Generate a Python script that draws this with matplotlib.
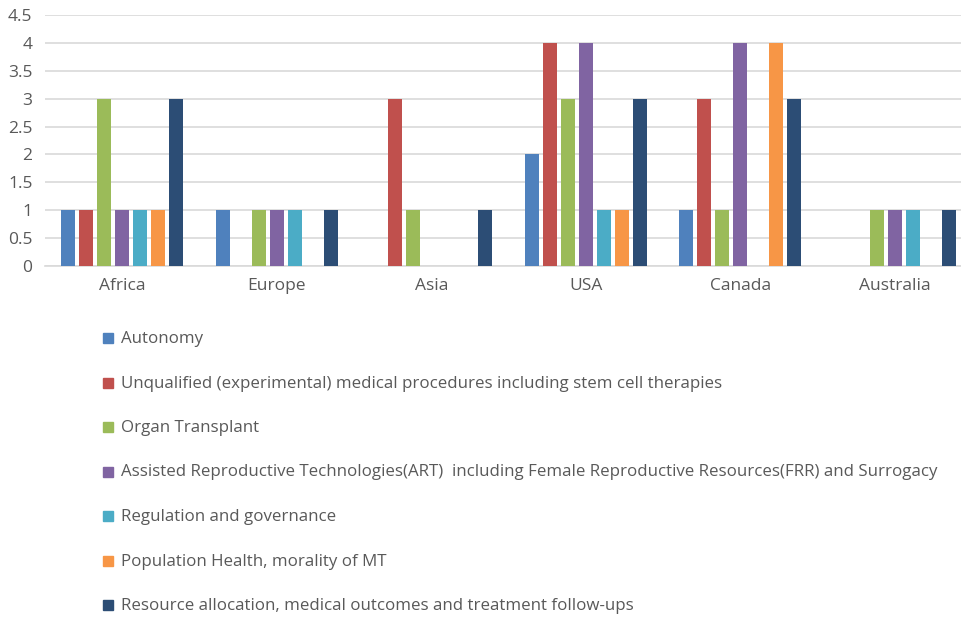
import matplotlib
matplotlib.use("Agg")
import matplotlib.pyplot as plt
import numpy as np
from matplotlib.patches import Rectangle

categories = ["Africa", "Europe", "Asia", "USA", "Canada", "Australia"]
series_names = [
    "Autonomy",
    "Unqualified (experimental) medical procedures including stem cell therapies",
    "Organ Transplant",
    "Assisted Reproductive Technologies(ART)  including Female Reproductive Resources(FRR) and Surrogacy",
    "Regulation and governance",
    "Population Health, morality of MT",
    "Resource allocation, medical outcomes and treatment follow-ups",
]
autonomy = [1, 1, 0, 2, 1, 0]
unqualified = [1, 0, 3, 4, 3, 0]
organ = [3, 1, 1, 3, 1, 1]
art = [1, 1, 0, 4, 4, 1]
regulation = [1, 1, 0, 1, 0, 1]
population = [1, 0, 0, 1, 4, 0]
resource = [3, 1, 1, 3, 3, 1]
values = [autonomy, unqualified, organ, art, regulation, population, resource]
yticks = [0, 0.5, 1, 1.5, 2, 2.5, 3, 3.5, 4, 4.5]
ytick_labels = ["0", "0.5", "1", "1.5", "2", "2.5", "3", "3.5", "4", "4.5"]

colors = ["#4F81BD", "#C0504D", "#9BBB59", "#8064A2", "#4BACC6", "#F79646", "#2C4D75"]
text_color = "#595959"
grid_color = "#D9D9D9"

plt.rcParams['font.family'] = ['Open Sans', 'DejaVu Sans']

W, H = 962, 617
fig = plt.figure(figsize=(W / 100, H / 100), dpi=100)

ax_left, ax_right = 45, 972
ax_top, ax_bottom = 15, 266
ax = fig.add_axes([ax_left / W, 1 - ax_bottom / H, (ax_right - ax_left) / W, (ax_bottom - ax_top) / H])

x = np.arange(len(categories))
pitch = 18 / 154.6
width = 14 / 154.6
for i, (vals, c) in enumerate(zip(values, colors)):
    ax.bar(x + (i - 3) * pitch, vals, width=width, color=c, zorder=3)

ax.set_xlim(-0.5, len(categories) - 0.5)
ax.set_ylim(0, 4.5)
ax.set_yticks(yticks)
ax.set_yticklabels(ytick_labels)
ax.set_xticks(x)
ax.set_xticklabels(categories)
ax.yaxis.grid(True, color=grid_color, linewidth=1.2, zorder=0)
ax.set_axisbelow(True)
for s in ["top", "right", "left"]:
    ax.spines[s].set_visible(False)
ax.spines["bottom"].set_color(grid_color)
ax.spines["bottom"].set_linewidth(1.2)
ax.tick_params(axis="both", length=0, colors=text_color, labelsize=12.5)
ax.tick_params(axis="y", pad=9)
ax.tick_params(axis="x", pad=9)

# legend (manual, vertical list)
y0 = 339
dy = 44.5
for i, (name, c) in enumerate(zip(series_names, colors)):
    yc = y0 + i * dy
    fig.patches.append(Rectangle((103 / W, 1 - (yc + 4) / H), 10 / W, 10 / H,
                                 transform=fig.transFigure, color=c, figure=fig))
    fig.text(121 / W, 1 - yc / H, name, color=text_color, fontsize=12.2, va="center", ha="left")

fig.savefig("out.png", dpi=100)
